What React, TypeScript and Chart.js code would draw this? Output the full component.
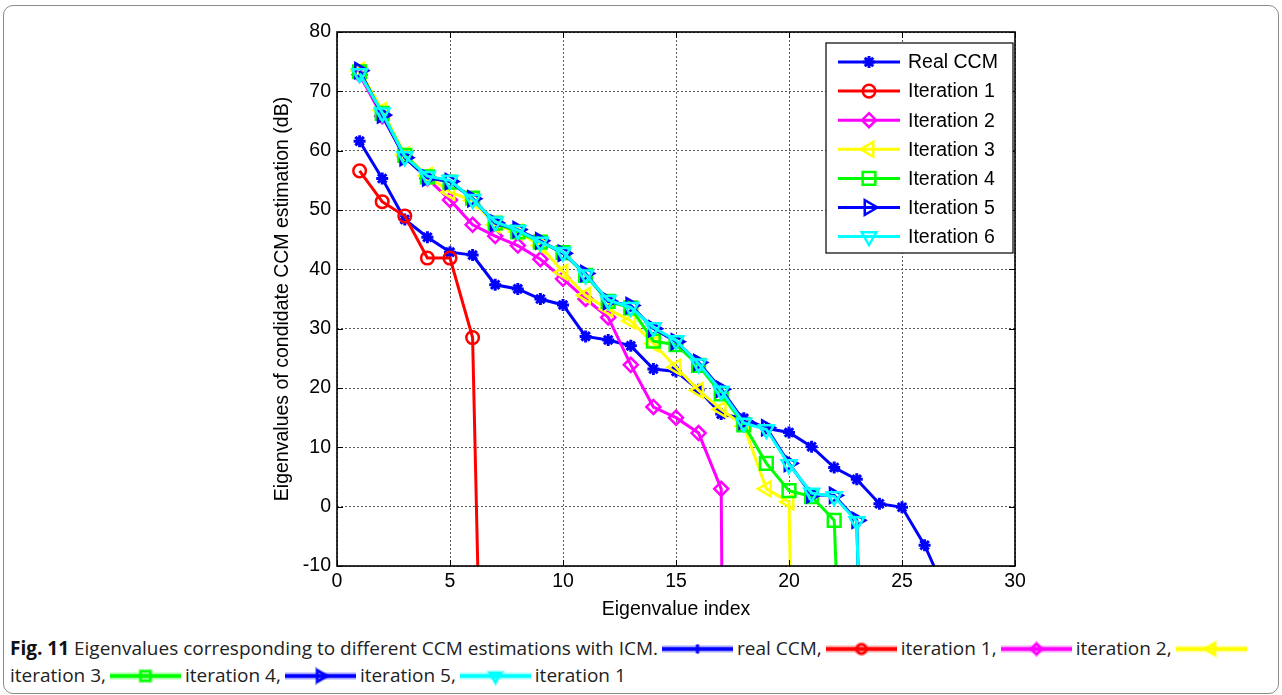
import React, { useEffect, useRef } from 'react';
import { Chart, registerables } from 'chart.js';

Chart.register(...registerables);

// Axis ticks
const xTicks = [0, 5, 10, 15, 20, 25, 30];
const yTicks = [-10, 0, 10, 20, 30, 40, 50, 60, 70, 80];

// Eigenvalues (dB), eigenvalue index starts at 1
const realCCM = [61.6, 55.3, 48.4, 45.4, 42.9, 42.4, 37.4, 36.7, 35.0, 34.0, 28.7, 28.1, 27.1, 23.2, 22.8, 19.7, 15.6, 14.9, 13.2, 12.5, 10.1, 6.6, 4.6, 0.5, -0.1, -6.5, -15.0];
const iteration1 = [56.6, 51.4, 49.0, 41.9, 41.9, 28.5, -140];
const iteration2 = [72.8, 65.8, 59.0, 55.3, 51.7, 47.5, 45.6, 44.0, 41.7, 38.4, 35.0, 31.9, 23.9, 16.8, 15.0, 12.4, 3.0, -500];
const iteration3 = [73.5, 66.8, 59.3, 55.8, 53.0, 51.6, 47.5, 46.3, 44.0, 39.5, 35.6, 33.3, 31.3, 27.5, 23.5, 19.6, 16.4, 13.6, 3.0, 0.8, -200];
const iteration4 = [73.3, 66.3, 59.2, 55.6, 54.7, 52.0, 47.8, 46.3, 44.6, 42.8, 39.0, 34.6, 33.5, 27.9, 27.3, 23.8, 19.0, 13.8, 7.3, 2.7, 1.7, -2.3, -100];
const iteration5 = [73.5, 66.0, 58.8, 55.4, 54.8, 51.9, 47.8, 46.7, 44.8, 42.7, 39.3, 34.6, 33.9, 30.0, 27.8, 24.3, 19.8, 14.4, 13.3, 7.3, 2.0, 1.9, -2.3, -150];
const iteration6 = [73.0, 66.4, 59.0, 55.7, 55.0, 51.8, 48.0, 46.6, 44.6, 42.9, 39.1, 34.8, 33.6, 30.2, 28.0, 24.1, 19.5, 14.1, 13.0, 7.1, 2.3, 1.7, -2.5, -150];

type Series = {
  label: string;
  values: number[];
  color: string;
  style: string;
  rotation: number;
  radius: number;
};

const series: Series[] = [
  { label: 'Real CCM', values: realCCM, color: '#0000ff', style: 'star', rotation: 0, radius: 6 },
  { label: 'Iteration 1', values: iteration1, color: '#ff0000', style: 'circle', rotation: 0, radius: 6.3 },
  { label: 'Iteration 2', values: iteration2, color: '#ff00ff', style: 'rectRot', rotation: 0, radius: 7 },
  { label: 'Iteration 3', values: iteration3, color: '#ffff00', style: 'triangle', rotation: -90, radius: 8.5 },
  { label: 'Iteration 4', values: iteration4, color: '#00ff00', style: 'rect', rotation: 0, radius: 9 },
  { label: 'Iteration 5', values: iteration5, color: '#0000ff', style: 'triangle', rotation: 90, radius: 8.5 },
  { label: 'Iteration 6', values: iteration6, color: '#00ffff', style: 'triangle', rotation: 180, radius: 8.5 },
];

const FONT_FAMILY = 'Arial, "Liberation Sans", sans-serif';
const FONT_SIZE = 19.5;

function markerPath(ctx: CanvasRenderingContext2D, style: string, x: number, y: number, r: number, rotDeg: number) {
  ctx.beginPath();
  const rot = (rotDeg * Math.PI) / 180;
  switch (style) {
    case 'circle':
      ctx.arc(x, y, r, 0, Math.PI * 2);
      break;
    case 'rect': {
      const s = r * Math.SQRT1_2;
      ctx.rect(x - s, y - s, 2 * s, 2 * s);
      break;
    }
    case 'rectRot':
      ctx.moveTo(x, y - r);
      ctx.lineTo(x + r, y);
      ctx.lineTo(x, y + r);
      ctx.lineTo(x - r, y);
      ctx.closePath();
      break;
    case 'triangle': {
      let a = rot;
      ctx.moveTo(x + Math.sin(a) * r, y - Math.cos(a) * r);
      a += (2 * Math.PI) / 3;
      ctx.lineTo(x + Math.sin(a) * r, y - Math.cos(a) * r);
      a += (2 * Math.PI) / 3;
      ctx.lineTo(x + Math.sin(a) * r, y - Math.cos(a) * r);
      ctx.closePath();
      break;
    }
    case 'star':
      for (let k = 0; k < 4; k++) {
        const a = (k * Math.PI) / 4;
        ctx.moveTo(x - Math.cos(a) * r, y - Math.sin(a) * r);
        ctx.lineTo(x + Math.cos(a) * r, y + Math.sin(a) * r);
      }
      break;
  }
  ctx.stroke();
}

// Axes box with inward tick marks, and the boxed legend in the upper right
const frameAndLegend = {
  id: 'frameAndLegend',
  afterDraw(chart: any) {
    const { ctx, chartArea, scales } = chart;
    const { left, right, top, bottom } = chartArea;
    ctx.save();
    ctx.strokeStyle = '#000';
    ctx.lineWidth = 1;
    const tl = 6;
    ctx.beginPath();
    for (const v of xTicks) {
      const px = Math.round(scales.x.getPixelForValue(v)) + 0.5;
      ctx.moveTo(px, bottom);
      ctx.lineTo(px, bottom - tl);
      ctx.moveTo(px, top);
      ctx.lineTo(px, top + tl);
    }
    for (const v of yTicks) {
      const py = Math.round(scales.y.getPixelForValue(v)) + 0.5;
      ctx.moveTo(left, py);
      ctx.lineTo(left + tl, py);
      ctx.moveTo(right, py);
      ctx.lineTo(right - tl, py);
    }
    ctx.stroke();
    ctx.lineWidth = 1.6;
    ctx.strokeRect(left, top, right - left, bottom - top);

    // legend
    const lx = 826, ly = 43, lw = 187, lh = 210;
    ctx.fillStyle = '#fff';
    ctx.fillRect(lx, ly, lw, lh);
    ctx.lineWidth = 1.2;
    ctx.strokeStyle = '#000';
    ctx.strokeRect(lx, ly, lw, lh);
    ctx.font = `${FONT_SIZE}px ${FONT_FAMILY}`;
    ctx.textBaseline = 'middle';
    ctx.textAlign = 'left';
    series.forEach((s, i) => {
      const cy = 62 + i * 29.1;
      ctx.strokeStyle = s.color;
      ctx.lineWidth = 3;
      ctx.beginPath();
      ctx.moveTo(838, cy);
      ctx.lineTo(900, cy);
      ctx.stroke();
      ctx.lineWidth = s.style === 'star' ? 3 : 2.5;
      markerPath(ctx, s.style, 869, cy, s.radius, s.rotation);
      ctx.fillStyle = '#000';
      ctx.fillText(s.label, 908, cy + 1);
    });
    ctx.restore();
  },
};

function iconPath(style: string, rot: number, cx: number, cy: number, r: number): string {
  const a0 = (rot * Math.PI) / 180;
  switch (style) {
    case 'circle':
      return `M ${cx - r} ${cy} a ${r} ${r} 0 1 0 ${2 * r} 0 a ${r} ${r} 0 1 0 ${-2 * r} 0`;
    case 'rect': {
      const s = r * Math.SQRT1_2;
      return `M ${cx - s} ${cy - s} h ${2 * s} v ${2 * s} h ${-2 * s} Z`;
    }
    case 'rectRot':
      return `M ${cx} ${cy - r} L ${cx + r} ${cy} L ${cx} ${cy + r} L ${cx - r} ${cy} Z`;
    case 'triangle': {
      const pts = [0, 1, 2].map((k) => {
        const a = a0 + (k * 2 * Math.PI) / 3;
        return `${cx + Math.sin(a) * r} ${cy - Math.cos(a) * r}`;
      });
      return `M ${pts[0]} L ${pts[1]} L ${pts[2]} Z`;
    }
    case 'star':
      return `M ${cx} ${cy - r} L ${cx} ${cy + r} M ${cx - r * 0.5} ${cy} L ${cx + r * 0.5} ${cy}`;
  }
  return '';
}

function LegendIcon({ s }: { s: Series }) {
  const w = 73, h = 22, cy = 11;
  const d = iconPath(s.style, s.rotation, w / 2, cy, s.radius * 0.75);
  return (
    <svg width={w} height={h} style={{ verticalAlign: '-5px', margin: '0 3px' }}>
      <line x1={1} y1={cy} x2={w - 1} y2={cy} stroke={s.color} strokeOpacity={0.35} strokeWidth={7} />
      <line x1={1} y1={cy} x2={w - 1} y2={cy} stroke={s.color} strokeWidth={3.5} />
      <path d={d} fill="none" stroke={s.color} strokeOpacity={0.4} strokeWidth={4.5} />
      <path d={d} fill="none" stroke={s.color} strokeWidth={2.2} />
    </svg>
  );
}

export default function App() {
  const canvasRef = useRef<HTMLCanvasElement | null>(null);

  useEffect(() => {
    const canvas = canvasRef.current;
    if (!canvas) return;
    const tickFont = { family: FONT_FAMILY, size: FONT_SIZE };
    const datasets = series.map((s, i) => ({
      label: s.label,
      data: s.values.map((v, k) => ({ x: k + 1, y: v })),
      borderColor: s.color,
      backgroundColor: 'rgba(0,0,0,0)',
      borderWidth: 3,
      pointStyle: s.style,
      pointRotation: s.rotation,
      pointRadius: s.radius,
      pointBorderWidth: s.style === 'star' ? 3 : 2.5,
      pointBorderColor: s.color,
      pointBackgroundColor: 'rgba(0,0,0,0)',
      tension: 0,
      fill: false,
      order: series.length - i,
    }));
    const gridOpts = { color: '#5a5a5a', lineWidth: 1, drawTicks: false };
    const borderOpts = { display: false, dash: [2, 2] };
    const chart = new Chart(canvas, {
      type: 'line',
      data: { datasets },
      plugins: [frameAndLegend],
      options: {
        responsive: false,
        animation: false,
        devicePixelRatio: 1,
        layout: { padding: { left: 257, right: 267, top: 32, bottom: 8 } },
        plugins: { legend: { display: false }, tooltip: { enabled: false } },
        scales: {
          x: {
            type: 'linear',
            min: 0,
            max: 30,
            afterBuildTicks: (scale: any) => {
              scale.ticks = xTicks.map((v) => ({ value: v }));
            },
            afterFit: (scale: any) => {
              scale.height = 56;
            },
            grid: gridOpts,
            border: borderOpts,
            ticks: { font: tickFont, color: '#000', padding: 4, maxRotation: 0, autoSkip: false },
            title: {
              display: true,
              text: 'Eigenvalue index',
              font: tickFont,
              color: '#000',
              padding: { top: 0, bottom: 1 },
            },
          },
          y: {
            type: 'linear',
            min: -10,
            max: 80,
            afterBuildTicks: (scale: any) => {
              scale.ticks = yTicks.map((v) => ({ value: v }));
            },
            afterFit: (scale: any) => {
              scale.width = 80;
            },
            grid: gridOpts,
            border: borderOpts,
            ticks: { font: tickFont, color: '#000', padding: 6, autoSkip: false },
            title: {
              display: true,
              text: 'Eigenvalues of condidate CCM estimation (dB)',
              font: tickFont,
              color: '#000',
              padding: { top: 14, bottom: 0 },
            },
          },
        },
      } as any,
    });
    return () => chart.destroy();
  }, []);

  const captionStyle: React.CSSProperties = {
    position: 'absolute',
    left: 10,
    whiteSpace: 'nowrap',
    fontFamily: '"Open Sans", "Noto Sans", sans-serif',
    fontSize: 19,
    lineHeight: '26px',
    color: '#222',
  };

  return (
    <div style={{ position: 'absolute', left: 0, top: 0, width: 1282, height: 695, background: '#fff', overflow: 'hidden' }}>
      <div
        style={{
          position: 'absolute',
          left: 3,
          top: 5,
          width: 1274,
          height: 687,
          border: '1px solid #8c8c8c',
          borderRadius: 10,
        }}
      />
      <canvas ref={canvasRef} width={1282} height={630} style={{ position: 'absolute', left: 0, top: 0, width: 1282, height: 630 }} />
      <div style={{ ...captionStyle, top: 635 }}>
        <b style={{ color: '#111' }}>Fig. 11</b> Eigenvalues corresponding to different CCM estimations with ICM.
        <LegendIcon s={series[0]} />real CCM,
        <LegendIcon s={series[1]} />iteration 1,
        <LegendIcon s={series[2]} />iteration 2,
        <LegendIcon s={series[3]} />
      </div>
      <div style={{ ...captionStyle, top: 662 }}>
        iteration 3,
        <LegendIcon s={series[4]} />iteration 4,
        <LegendIcon s={series[5]} />iteration 5,
        <LegendIcon s={series[6]} />iteration 1
      </div>
    </div>
  );
}
